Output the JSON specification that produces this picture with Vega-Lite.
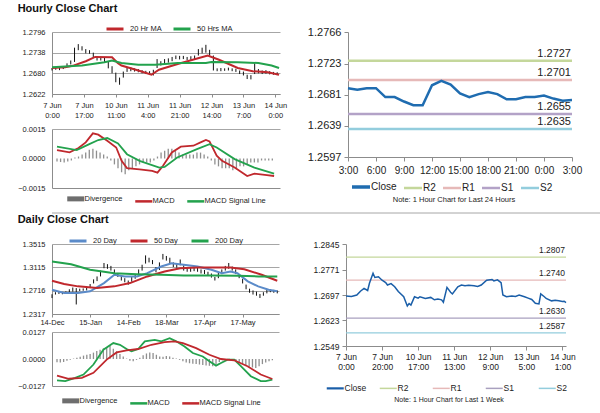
{
  "$schema": "https://vega.github.io/schema/vega-lite/v6.json",
  "padding": {"left": 17, "top": 3, "right": 2, "bottom": 0},
  "config": {
    "view": {"stroke": null},
    "font": "Liberation Sans",
    "concat": {"spacing": 0},
    "axis": {"domainColor": "#8c8c8c", "tickColor": "#8c8c8c", "gridColor": "#a6a6a6", "labelColor": "#222", "labelFlush": false, "labelOverlap": false, "labelFont": "Liberation Sans", "tickCount": 50},
    "legend": {"labelColor": "#222", "labelFont": "Liberation Sans"}
  },
  "datasets": {
    "hPrice": [
      {"i":0,"lo":1.2688,"hi":1.2695},{"i":2,"lo":1.2690,"hi":1.2697},{"i":4,"lo":1.2689,"hi":1.2696},{"i":6,"lo":1.2692,"hi":1.2700},
      {"i":8,"lo":1.2698,"hi":1.2708},{"i":10,"lo":1.2705,"hi":1.2716},{"i":12,"lo":1.2712,"hi":1.2752},{"i":14,"lo":1.2745,"hi":1.2762},
      {"i":16,"lo":1.2744,"hi":1.2756},{"i":18,"lo":1.2736,"hi":1.2748},{"i":20,"lo":1.2735,"hi":1.2745},{"i":22,"lo":1.2724,"hi":1.2738},
      {"i":24,"lo":1.2716,"hi":1.2728},{"i":26,"lo":1.2716,"hi":1.2727},{"i":28,"lo":1.2712,"hi":1.2725},{"i":30,"lo":1.2694,"hi":1.2712},
      {"i":32,"lo":1.2680,"hi":1.2700},{"i":34,"lo":1.2655,"hi":1.2682},{"i":36,"lo":1.2648,"hi":1.2668},{"i":38,"lo":1.2668,"hi":1.2685},
      {"i":40,"lo":1.2684,"hi":1.2696},{"i":42,"lo":1.2686,"hi":1.2697},{"i":44,"lo":1.2685,"hi":1.2694},{"i":46,"lo":1.2683,"hi":1.2692},
      {"i":48,"lo":1.2680,"hi":1.2689},{"i":50,"lo":1.2678,"hi":1.2687},{"i":52,"lo":1.2677,"hi":1.2686},{"i":54,"lo":1.2674,"hi":1.2690},
      {"i":56,"lo":1.2695,"hi":1.2720},{"i":58,"lo":1.2702,"hi":1.2714},{"i":60,"lo":1.2708,"hi":1.2720},{"i":62,"lo":1.2710,"hi":1.2722},
      {"i":64,"lo":1.2714,"hi":1.2726},{"i":66,"lo":1.2720,"hi":1.2730},{"i":68,"lo":1.2719,"hi":1.2729},{"i":70,"lo":1.2720,"hi":1.2729},
      {"i":72,"lo":1.2717,"hi":1.2726},{"i":74,"lo":1.2718,"hi":1.2728},{"i":76,"lo":1.2720,"hi":1.2730},{"i":78,"lo":1.2730,"hi":1.2748},
      {"i":80,"lo":1.2736,"hi":1.2752},{"i":82,"lo":1.2738,"hi":1.2760},{"i":84,"lo":1.2730,"hi":1.2746},{"i":86,"lo":1.2688,"hi":1.2730},
      {"i":88,"lo":1.2686,"hi":1.2694},{"i":90,"lo":1.2686,"hi":1.2695},{"i":92,"lo":1.2687,"hi":1.2694},{"i":94,"lo":1.2688,"hi":1.2696},
      {"i":96,"lo":1.2686,"hi":1.2694},{"i":98,"lo":1.2684,"hi":1.2693},{"i":100,"lo":1.2678,"hi":1.2688},{"i":102,"lo":1.2674,"hi":1.2685},
      {"i":104,"lo":1.2664,"hi":1.2676},{"i":106,"lo":1.2663,"hi":1.2675},{"i":108,"lo":1.2678,"hi":1.2708},{"i":110,"lo":1.2680,"hi":1.2692},
      {"i":112,"lo":1.2678,"hi":1.2688},{"i":114,"lo":1.2679,"hi":1.2689},{"i":116,"lo":1.2677,"hi":1.2686},{"i":118,"lo":1.2676,"hi":1.2684},
      {"i":120,"lo":1.2675,"hi":1.2683}
    ],
    "hMA": [
      {"s":"20 Hr MA","i":0,"v":1.2695},{"s":"20 Hr MA","i":7,"v":1.2697},{"s":"20 Hr MA","i":11,"v":1.2701},{"s":"20 Hr MA","i":18,"v":1.2714},
      {"s":"20 Hr MA","i":23,"v":1.2726},{"s":"20 Hr MA","i":32,"v":1.2725},{"s":"20 Hr MA","i":35,"v":1.2709},{"s":"20 Hr MA","i":37,"v":1.2702},
      {"s":"20 Hr MA","i":46,"v":1.2688},{"s":"20 Hr MA","i":53,"v":1.2676},{"s":"20 Hr MA","i":57,"v":1.2690},{"s":"20 Hr MA","i":67,"v":1.2706},
      {"s":"20 Hr MA","i":75,"v":1.2718},{"s":"20 Hr MA","i":83,"v":1.2730},{"s":"20 Hr MA","i":89,"v":1.2718},{"s":"20 Hr MA","i":99,"v":1.2695},
      {"s":"20 Hr MA","i":107,"v":1.2686},{"s":"20 Hr MA","i":115,"v":1.2683},{"s":"20 Hr MA","i":121,"v":1.2676},
      {"s":"50 Hrs MA","i":0,"v":1.2697},{"s":"50 Hrs MA","i":16,"v":1.2702},{"s":"50 Hrs MA","i":28,"v":1.2711},{"s":"50 Hrs MA","i":32,"v":1.2716},
      {"s":"50 Hrs MA","i":37,"v":1.2709},{"s":"50 Hrs MA","i":46,"v":1.2704},{"s":"50 Hrs MA","i":55,"v":1.2704},{"s":"50 Hrs MA","i":67,"v":1.2709},
      {"s":"50 Hrs MA","i":82,"v":1.2709},{"s":"50 Hrs MA","i":85,"v":1.2712},{"s":"50 Hrs MA","i":99,"v":1.2711},{"s":"50 Hrs MA","i":110,"v":1.2709},
      {"s":"50 Hrs MA","i":117,"v":1.2702},{"s":"50 Hrs MA","i":121,"v":1.2695}
    ],
    "hMacd": [
      {"s":"MACD","i":0,"v":0.00043},{"s":"MACD","i":7,"v":0.00031},{"s":"MACD","i":12,"v":0.00053},{"s":"MACD","i":16,"v":0.00082},
      {"s":"MACD","i":20,"v":0.00128},{"s":"MACD","i":23,"v":0.00121},{"s":"MACD","i":28,"v":0.0009},{"s":"MACD","i":33,"v":0.00056},
      {"s":"MACD","i":36,"v":-0.00012},{"s":"MACD","i":39,"v":-0.00049},{"s":"MACD","i":46,"v":-0.00055},{"s":"MACD","i":53,"v":-0.00063},
      {"s":"MACD","i":56,"v":-0.00072},{"s":"MACD","i":59,"v":-0.00038},{"s":"MACD","i":64,"v":0.00031},{"s":"MACD","i":69,"v":0.0006},
      {"s":"MACD","i":76,"v":0.00065},{"s":"MACD","i":80,"v":0.00082},{"s":"MACD","i":83,"v":0.00094},{"s":"MACD","i":85,"v":0.00087},
      {"s":"MACD","i":89,"v":0.00014},{"s":"MACD","i":92,"v":-0.00012},{"s":"MACD","i":99,"v":-0.00046},{"s":"MACD","i":106,"v":-0.00089},
      {"s":"MACD","i":110,"v":-0.00077},{"s":"MACD","i":117,"v":-0.00084},{"s":"MACD","i":121,"v":-0.00089},
      {"s":"MACD Signal Line","i":0,"v":0.0006},{"s":"MACD Signal Line","i":11,"v":0.00043},{"s":"MACD Signal Line","i":18,"v":0.00073},
      {"s":"MACD Signal Line","i":23,"v":0.00094},{"s":"MACD Signal Line","i":28,"v":0.00104},{"s":"MACD Signal Line","i":34,"v":0.00077},
      {"s":"MACD Signal Line","i":39,"v":0.00022},{"s":"MACD Signal Line","i":46,"v":-0.00012},{"s":"MACD Signal Line","i":57,"v":-0.00046},
      {"s":"MACD Signal Line","i":60,"v":-0.00043},{"s":"MACD Signal Line","i":67,"v":0.00005},{"s":"MACD Signal Line","i":78,"v":0.00048},
      {"s":"MACD Signal Line","i":85,"v":0.00073},{"s":"MACD Signal Line","i":89,"v":0.00056},{"s":"MACD Signal Line","i":99,"v":-0.00003},
      {"s":"MACD Signal Line","i":110,"v":-0.00046},{"s":"MACD Signal Line","i":121,"v":-0.00077}
    ],
    "hDiv": [
      {"i":0,"v":-0.00015},{"i":2,"v":-0.00018},{"i":4,"v":-0.0002},{"i":6,"v":-0.00015},{"i":8,"v":-0.0001},{"i":10,"v":0.00005},
      {"i":12,"v":0.0001},{"i":14,"v":0.0002},{"i":16,"v":0.0003},{"i":18,"v":0.00045},{"i":20,"v":0.0005},{"i":22,"v":0.0004},
      {"i":24,"v":0.0003},{"i":26,"v":0.0002},{"i":28,"v":0.0001},{"i":30,"v":-0.0001},{"i":32,"v":-0.0003},{"i":34,"v":-0.0005},
      {"i":36,"v":-0.0007},{"i":38,"v":-0.0008},{"i":40,"v":-0.0006},{"i":42,"v":-0.0005},{"i":44,"v":-0.0004},{"i":46,"v":-0.0003},
      {"i":48,"v":-0.0002},{"i":50,"v":-0.0002},{"i":52,"v":-0.0002},{"i":54,"v":-0.0001},{"i":56,"v":0.0001},{"i":58,"v":0.0003},
      {"i":60,"v":0.0004},{"i":62,"v":0.0005},{"i":64,"v":0.0005},{"i":66,"v":0.0004},{"i":68,"v":0.0003},{"i":70,"v":0.0002},
      {"i":72,"v":0.0002},{"i":74,"v":0.0002},{"i":76,"v":0.0002},{"i":78,"v":0.0003},{"i":80,"v":0.0003},{"i":82,"v":0.0002},
      {"i":84,"v":0.0001},{"i":86,"v":-0.0001},{"i":88,"v":-0.0003},{"i":90,"v":-0.0004},{"i":92,"v":-0.0005},{"i":94,"v":-0.0005},
      {"i":96,"v":-0.0005},{"i":98,"v":-0.0006},{"i":100,"v":-0.0005},{"i":102,"v":-0.0004},{"i":104,"v":-0.0004},{"i":106,"v":-0.0003},
      {"i":108,"v":-0.0002},{"i":110,"v":-0.0002},{"i":112,"v":-0.0002},{"i":114,"v":-0.0001},{"i":116,"v":-0.0001},{"i":118,"v":-0.0001},
      {"i":120,"v":-0.0001}
    ],
    "hr24": [
      {"h":0,"v":1.2690},{"h":1,"v":1.2688},{"h":2,"v":1.2690},{"h":3,"v":1.2690},{"h":4,"v":1.2678},{"h":5,"v":1.2678},
      {"h":6,"v":1.2672},{"h":7,"v":1.2667},{"h":8,"v":1.2667},{"h":9,"v":1.2694},{"h":10,"v":1.2700},{"h":11,"v":1.2695},
      {"h":12,"v":1.2683},{"h":13,"v":1.2678},{"h":14,"v":1.2682},{"h":15,"v":1.2685},{"h":16,"v":1.2682},{"h":17,"v":1.2675},
      {"h":18,"v":1.2675},{"h":19,"v":1.2678},{"h":20,"v":1.2678},{"h":21,"v":1.2680},{"h":22,"v":1.2676},{"h":23,"v":1.2673},
      {"h":24,"v":1.2674}
    ],
    "lv24": [
      {"s":"R2","v":1.2727,"lab":"1.2727"},{"s":"R1","v":1.2701,"lab":"1.2701"},{"s":"S1","v":1.2655,"lab":"1.2655"},{"s":"S2","v":1.2635,"lab":"1.2635"}
    ],
    "week": [
      {"i":0,"v":1.2694},{"i":3,"v":1.2693},{"i":6,"v":1.2697},{"i":8,"v":1.2708},{"i":10,"v":1.2716},{"i":12,"v":1.2710},
      {"i":13,"v":1.2731},{"i":15,"v":1.2760},{"i":16,"v":1.2748},{"i":18,"v":1.2750},{"i":20,"v":1.2740},{"i":22,"v":1.2733},
      {"i":23,"v":1.2726},{"i":25,"v":1.2730},{"i":27,"v":1.2721},{"i":29,"v":1.2707},{"i":32,"v":1.2692},{"i":34,"v":1.2665},
      {"i":35,"v":1.2672},{"i":36,"v":1.2668},{"i":37,"v":1.2680},{"i":38,"v":1.2692},{"i":40,"v":1.2688},{"i":41,"v":1.2692},
      {"i":44,"v":1.2687},{"i":47,"v":1.2690},{"i":49,"v":1.2683},{"i":51,"v":1.2685},{"i":53,"v":1.2683},{"i":54,"v":1.2676},
      {"i":56,"v":1.2719},{"i":58,"v":1.2705},{"i":59,"v":1.2700},{"i":62,"v":1.2721},{"i":64,"v":1.2726},{"i":66,"v":1.2724},
      {"i":68,"v":1.2725},{"i":71,"v":1.2724},{"i":73,"v":1.2722},{"i":75,"v":1.2726},{"i":78,"v":1.2740},{"i":81,"v":1.2742},
      {"i":82,"v":1.2738},{"i":84,"v":1.2741},{"i":86,"v":1.2733},{"i":87,"v":1.2697},{"i":89,"v":1.2692},{"i":92,"v":1.2694},
      {"i":94,"v":1.2693},{"i":96,"v":1.2697},{"i":99,"v":1.2692},{"i":101,"v":1.2688},{"i":103,"v":1.2684},{"i":105,"v":1.2673},
      {"i":107,"v":1.2671},{"i":108,"v":1.2700},{"i":110,"v":1.2692},{"i":111,"v":1.2687},{"i":114,"v":1.2680},{"i":116,"v":1.2682},
      {"i":118,"v":1.2680},{"i":120,"v":1.2678},{"i":121,"v":1.2679},{"i":122,"v":1.2675}
    ],
    "lvWk": [
      {"s":"R2","v":1.2807,"lab":"1.2807"},{"s":"R1","v":1.2740,"lab":"1.2740"},{"s":"S1","v":1.2630,"lab":"1.2630"},{"s":"S2","v":1.2587,"lab":"1.2587"}
    ],
    "dPrice": [
      {"i":0,"lo":1.2590,"hi":1.2655},{"i":2,"lo":1.2650,"hi":1.2690},{"i":4,"lo":1.2660,"hi":1.2700},{"i":6,"lo":1.2655,"hi":1.2695},
      {"i":8,"lo":1.2665,"hi":1.2705},{"i":10,"lo":1.2680,"hi":1.2740},{"i":12,"lo":1.2700,"hi":1.2770},{"i":14,"lo":1.2480,"hi":1.2760},
      {"i":16,"lo":1.2710,"hi":1.2750},{"i":18,"lo":1.2715,"hi":1.2755},{"i":20,"lo":1.2720,"hi":1.2770},{"i":22,"lo":1.2760,"hi":1.2830},
      {"i":24,"lo":1.2840,"hi":1.2910},{"i":26,"lo":1.2880,"hi":1.2960},{"i":28,"lo":1.2960,"hi":1.3060},{"i":30,"lo":1.3100,"hi":1.3190},
      {"i":32,"lo":1.3090,"hi":1.3170},{"i":34,"lo":1.3060,"hi":1.3140},{"i":36,"lo":1.2990,"hi":1.3080},{"i":38,"lo":1.2950,"hi":1.3020},
      {"i":40,"lo":1.2890,"hi":1.2970},{"i":42,"lo":1.2860,"hi":1.2930},{"i":44,"lo":1.2818,"hi":1.2890},{"i":46,"lo":1.2870,"hi":1.2950},
      {"i":48,"lo":1.2920,"hi":1.2990},{"i":50,"lo":1.2980,"hi":1.3080},{"i":52,"lo":1.3060,"hi":1.3160},{"i":54,"lo":1.3180,"hi":1.3320},
      {"i":56,"lo":1.3200,"hi":1.3280},{"i":58,"lo":1.3170,"hi":1.3240},{"i":60,"lo":1.3030,"hi":1.3120},{"i":62,"lo":1.3070,"hi":1.3200},
      {"i":64,"lo":1.3250,"hi":1.3345},{"i":66,"lo":1.3230,"hi":1.3310},{"i":68,"lo":1.3190,"hi":1.3280},{"i":70,"lo":1.3120,"hi":1.3200},
      {"i":72,"lo":1.3110,"hi":1.3190},{"i":74,"lo":1.3150,"hi":1.3250},{"i":76,"lo":1.3060,"hi":1.3150},{"i":78,"lo":1.3040,"hi":1.3110},
      {"i":80,"lo":1.3040,"hi":1.3110},{"i":82,"lo":1.3050,"hi":1.3115},{"i":84,"lo":1.3040,"hi":1.3110},{"i":86,"lo":1.3010,"hi":1.3080},
      {"i":88,"lo":1.3000,"hi":1.3070},{"i":90,"lo":1.2970,"hi":1.3040},{"i":92,"lo":1.2940,"hi":1.3010},{"i":94,"lo":1.2890,"hi":1.2950},
      {"i":96,"lo":1.2930,"hi":1.3020},{"i":98,"lo":1.3000,"hi":1.3080},{"i":100,"lo":1.3060,"hi":1.3140},{"i":102,"lo":1.3090,"hi":1.3190},
      {"i":104,"lo":1.3060,"hi":1.3130},{"i":106,"lo":1.3000,"hi":1.3080},{"i":108,"lo":1.2930,"hi":1.2990},{"i":110,"lo":1.2840,"hi":1.2920},
      {"i":112,"lo":1.2740,"hi":1.2820},{"i":114,"lo":1.2680,"hi":1.2750},{"i":116,"lo":1.2650,"hi":1.2720},{"i":118,"lo":1.2630,"hi":1.2700},
      {"i":120,"lo":1.2591,"hi":1.2660},{"i":122,"lo":1.2630,"hi":1.2690},{"i":124,"lo":1.2670,"hi":1.2730},{"i":126,"lo":1.2690,"hi":1.2740},
      {"i":128,"lo":1.2680,"hi":1.2730},{"i":130,"lo":1.2670,"hi":1.2720}
    ],
    "dMA": [
      {"s":"20 Day","i":0,"v":1.2733},{"s":"20 Day","i":7,"v":1.2676},{"s":"20 Day","i":15,"v":1.2676},{"s":"20 Day","i":22,"v":1.2705},
      {"s":"20 Day","i":30,"v":1.2846},{"s":"20 Day","i":36,"v":1.2988},{"s":"20 Day","i":42,"v":1.2960},{"s":"20 Day","i":49,"v":1.2960},
      {"s":"20 Day","i":55,"v":1.3016},{"s":"20 Day","i":63,"v":1.3130},{"s":"20 Day","i":69,"v":1.3186},{"s":"20 Day","i":76,"v":1.3158},
      {"s":"20 Day","i":84,"v":1.3130},{"s":"20 Day","i":92,"v":1.3073},{"s":"20 Day","i":98,"v":1.3016},{"s":"20 Day","i":103,"v":1.3045},
      {"s":"20 Day","i":107,"v":1.3016},{"s":"20 Day","i":113,"v":1.2875},{"s":"20 Day","i":119,"v":1.2790},{"s":"20 Day","i":125,"v":1.2733},
      {"s":"20 Day","i":130,"v":1.2705},
      {"s":"50 Day","i":0,"v":1.2886},{"s":"50 Day","i":7,"v":1.2829},{"s":"50 Day","i":15,"v":1.2790},{"s":"50 Day","i":26,"v":1.2761},
      {"s":"50 Day","i":36,"v":1.2790},{"s":"50 Day","i":45,"v":1.2846},{"s":"50 Day","i":55,"v":1.2960},{"s":"50 Day","i":65,"v":1.3045},
      {"s":"50 Day","i":74,"v":1.3101},{"s":"50 Day","i":84,"v":1.3112},{"s":"50 Day","i":94,"v":1.3112},{"s":"50 Day","i":103,"v":1.3112},
      {"s":"50 Day","i":111,"v":1.3084},{"s":"50 Day","i":121,"v":1.2988},{"s":"50 Day","i":130,"v":1.2886},
      {"s":"200 Day","i":0,"v":1.3215},{"s":"200 Day","i":11,"v":1.3169},{"s":"200 Day","i":22,"v":1.3073},{"s":"200 Day","i":36,"v":1.3016},
      {"s":"200 Day","i":49,"v":1.2999},{"s":"200 Day","i":63,"v":1.2988},{"s":"200 Day","i":76,"v":1.2977},{"s":"200 Day","i":92,"v":1.2977},
      {"s":"200 Day","i":107,"v":1.2971},{"s":"200 Day","i":119,"v":1.2960},{"s":"200 Day","i":130,"v":1.2960}
    ],
    "dMacd": [
      {"s":"MACD","i":0,"v":-0.0101},{"s":"MACD","i":5,"v":-0.0104},{"s":"MACD","i":11,"v":-0.0089},{"s":"MACD","i":16,"v":-0.0073},
      {"s":"MACD","i":22,"v":-0.0026},{"s":"MACD","i":28,"v":0.0044},{"s":"MACD","i":34,"v":0.0075},{"s":"MACD","i":38,"v":0.0067},
      {"s":"MACD","i":42,"v":0.0047},{"s":"MACD","i":45,"v":0.0036},{"s":"MACD","i":49,"v":0.0047},{"s":"MACD","i":53,"v":0.0083},
      {"s":"MACD","i":59,"v":0.0090},{"s":"MACD","i":63,"v":0.0083},{"s":"MACD","i":68,"v":0.0098},{"s":"MACD","i":72,"v":0.0083},
      {"s":"MACD","i":77,"v":0.0059},{"s":"MACD","i":82,"v":0.0028},{"s":"MACD","i":88,"v":0.0012},{"s":"MACD","i":92,"v":-0.0011},
      {"s":"MACD","i":96,"v":-0.0031},{"s":"MACD","i":99,"v":-0.0019},{"s":"MACD","i":103,"v":-0.0003},{"s":"MACD","i":107,"v":-0.0003},
      {"s":"MACD","i":111,"v":-0.0034},{"s":"MACD","i":117,"v":-0.0081},{"s":"MACD","i":123,"v":-0.0104},{"s":"MACD","i":126,"v":-0.0104},
      {"s":"MACD","i":130,"v":-0.0097},
      {"s":"MACD Signal Line","i":0,"v":-0.0078},{"s":"MACD Signal Line","i":7,"v":-0.0093},{"s":"MACD Signal Line","i":15,"v":-0.0089},
      {"s":"MACD Signal Line","i":22,"v":-0.0065},{"s":"MACD Signal Line","i":30,"v":-0.0003},{"s":"MACD Signal Line","i":36,"v":0.0031},
      {"s":"MACD Signal Line","i":42,"v":0.0041},{"s":"MACD Signal Line","i":49,"v":0.0047},{"s":"MACD Signal Line","i":57,"v":0.0067},
      {"s":"MACD Signal Line","i":65,"v":0.0079},{"s":"MACD Signal Line","i":71,"v":0.0083},{"s":"MACD Signal Line","i":76,"v":0.0075},
      {"s":"MACD Signal Line","i":84,"v":0.0051},{"s":"MACD Signal Line","i":92,"v":0.0020},{"s":"MACD Signal Line","i":99,"v":0.0},
      {"s":"MACD Signal Line","i":107,"v":-0.0006},{"s":"MACD Signal Line","i":115,"v":-0.0034},{"s":"MACD Signal Line","i":123,"v":-0.0073},
      {"s":"MACD Signal Line","i":130,"v":-0.0094}
    ],
    "dDiv": [
      {"i":0,"v":-0.0015},{"i":2,"v":-0.0016},{"i":4,"v":-0.0014},{"i":6,"v":-0.0008},{"i":8,"v":-0.0004},{"i":10,"v":0.0002},
      {"i":12,"v":0.0006},{"i":14,"v":0.0010},{"i":16,"v":0.0016},{"i":18,"v":0.0020},{"i":20,"v":0.0024},{"i":22,"v":0.0030},
      {"i":24,"v":0.0038},{"i":26,"v":0.0044},{"i":28,"v":0.0050},{"i":30,"v":0.0056},{"i":32,"v":0.0062},{"i":34,"v":0.0048},
      {"i":36,"v":0.0036},{"i":38,"v":0.0024},{"i":40,"v":0.0012},{"i":42,"v":0.0002},{"i":44,"v":-0.0008},{"i":46,"v":-0.0010},
      {"i":48,"v":-0.0004},{"i":50,"v":0.0006},{"i":52,"v":0.0018},{"i":54,"v":0.0026},{"i":56,"v":0.0030},{"i":58,"v":0.0028},
      {"i":60,"v":0.0020},{"i":62,"v":0.0012},{"i":64,"v":0.0010},{"i":66,"v":0.0014},{"i":68,"v":0.0012},{"i":70,"v":0.0006},
      {"i":72,"v":0.0002},{"i":74,"v":-0.0004},{"i":76,"v":-0.0010},{"i":78,"v":-0.0016},{"i":80,"v":-0.0020},{"i":82,"v":-0.0022},
      {"i":84,"v":-0.0024},{"i":86,"v":-0.0026},{"i":88,"v":-0.0028},{"i":90,"v":-0.0030},{"i":92,"v":-0.0032},{"i":94,"v":-0.0034},
      {"i":96,"v":-0.0026},{"i":98,"v":-0.0014},{"i":100,"v":-0.0006},{"i":102,"v":-0.0002},{"i":104,"v":0.0001},{"i":106,"v":0.0},
      {"i":108,"v":-0.0008},{"i":110,"v":-0.0016},{"i":112,"v":-0.0024},{"i":114,"v":-0.0030},{"i":116,"v":-0.0036},{"i":118,"v":-0.0040},
      {"i":120,"v":-0.0042},{"i":122,"v":-0.0034},{"i":124,"v":-0.0024},{"i":126,"v":-0.0016},{"i":128,"v":-0.0010},{"i":130,"v":-0.0006}
    ],
    "sep": [{"v": 0}]
  },
  "resolve": {"scale": {"x": "independent", "y": "independent", "color": "independent"}, "legend": {"color": "independent"}},
  "vconcat": [
    {
      "title": {"text": "Hourly Close Chart", "anchor": "start", "fontSize": 11, "fontWeight": "bold", "offset": 5, "color": "#111"},
      "spacing": 20,
      "resolve": {"scale": {"x": "independent", "y": "independent", "color": "independent"}, "legend": {"color": "independent"}},
      "hconcat": [
        {
          "spacing": 6,
          "resolve": {"scale": {"x": "independent", "y": "independent", "color": "independent"}, "legend": {"color": "independent"}},
          "vconcat": [
            {
              "width": 228, "height": 62,
              "layer": [
                {
                  "data": {"name": "hPrice"},
                  "mark": {"type": "rule", "color": "#111", "strokeWidth": 1},
                  "encoding": {
                    "x": {"field": "i", "type": "quantitative", "scale": {"domain": [0, 121.5], "nice": false, "zero": false},
                      "axis": {"values": [0, 17, 34, 51, 68, 85, 102, 119], "tickCount": 50, "labelExpr": "[['7 Jun','0:00'],['7 Jun','17:00'],['10 Jun','11:00'],['11 Jun','4:00'],['11 Jun','21:00'],['12 Jun','14:00'],['13 Jun','7:00'],['14 Jun','0:00']][round(datum.value/17)]", "labelOverlap": false, "labelFlush": false, "labelFontSize": 7.5, "labelLineHeight": 10, "tickSize": 3, "labelPadding": 4, "grid": false, "title": null}},
                    "y": {"field": "lo", "type": "quantitative", "scale": {"domain": [1.2622, 1.2796], "nice": false, "zero": false},
                      "axis": {"values": [1.2622, 1.268, 1.2738, 1.2796], "tickCount": 50, "format": ".4f", "labelOverlap": false, "labelFlush": false, "labelFontSize": 7.5, "ticks": false, "labelPadding": 7, "grid": true, "title": null}},
                    "y2": {"field": "hi"}
                  }
                },
                {
                  "data": {"name": "hMA"},
                  "mark": {"type": "line", "strokeWidth": 2},
                  "encoding": {
                    "x": {"field": "i", "type": "quantitative"},
                    "y": {"field": "v", "type": "quantitative"},
                    "color": {"field": "s", "type": "nominal", "scale": {"domain": ["20 Hr MA", "50 Hrs MA"], "range": ["#c0282d", "#23a24d"]},
                      "legend": {"orient": "none", "legendX": 53, "legendY": -13, "direction": "horizontal", "title": null, "symbolType": "stroke", "symbolSize": 289, "symbolStrokeWidth": 3, "labelFontSize": 7.5, "labelOffset": 5, "columnPadding": 5}}
                  }
                }
              ]
            },
            {
              "width": 228, "height": 59,
              "layer": [
                {
                  "data": {"name": "hDiv"},
                  "mark": {"type": "bar", "size": 1.3, "color": "#8f8f8f"},
                  "encoding": {
                    "x": {"field": "i", "type": "quantitative", "scale": {"domain": [0, 121.5], "nice": false, "zero": false},
                      "axis": {"labels": false, "ticks": false, "grid": false, "title": null}},
                    "y": {"field": "v", "type": "quantitative", "scale": {"domain": [-0.0015, 0.0015], "nice": false},
                      "axis": {"values": [-0.0015, 0, 0.0015], "tickCount": 50, "format": ".4f", "labelOverlap": false, "labelFlush": false, "labelFontSize": 7.5, "ticks": false, "labelPadding": 7, "grid": true, "gridOpacity": {"condition": {"test": "datum.value > 0", "value": 1}, "value": 0}, "title": null}},
                    "y2": {"datum": 0}
                  }
                },
                {
                  "data": {"name": "hMacd"},
                  "mark": {"type": "line", "strokeWidth": 1.8},
                  "encoding": {
                    "x": {"field": "i", "type": "quantitative"},
                    "y": {"field": "v", "type": "quantitative"},
                    "color": {"field": "s", "type": "nominal", "scale": {"domain": ["Divergence", "MACD", "MACD Signal Line"], "range": ["#6e6e6e", "#c0282d", "#23a24d"]},
                      "legend": {"orient": "none", "legendX": 20, "legendY": 66, "direction": "horizontal", "title": null, "symbolType": "stroke", "symbolSize": 289, "symbolStrokeWidth": 2.5, "labelFontSize": 7.5, "labelOffset": 5, "columnPadding": 7,
                        "encode": {"symbols": {"update": {"strokeWidth": {"signal": "datum.value === 'Divergence' ? 5 : 2.5"}}}}}}
                  }
                }
              ]
            }
          ]
        },
        {
          "width": 224, "height": 125,
          "layer": [
            {
              "data": {"name": "lv24"},
              "mark": {"type": "rule", "strokeWidth": 2.5},
              "encoding": {
                "y": {"field": "v", "type": "quantitative", "scale": {"domain": [1.2597, 1.2766], "nice": false, "zero": false},
                  "axis": {"values": [1.2597, 1.2639, 1.2681, 1.2723, 1.2766], "tickCount": 50, "format": ".4f", "labelOverlap": false, "labelFlush": false, "labelFontSize": 11, "tickSize": 4, "labelPadding": 3, "grid": false, "title": null}},
                "color": {"field": "s", "type": "nominal", "scale": {"domain": ["Close", "R2", "R1", "S1", "S2"], "range": ["#1f6cb0", "#c4d79b", "#e6b9b8", "#b3a2c7", "#93cddd"]},
                  "legend": {"orient": "none", "legendX": 8, "legendY": 150, "direction": "horizontal", "title": "Note: 1 Hour Chart for Last 24 Hours", "titleOrient": "bottom", "titleAnchor": "middle", "titleFontSize": 7.5, "titleFontWeight": "normal", "titlePadding": 2, "titleColor": "#222",
                    "symbolType": "stroke", "symbolSize": 324, "symbolStrokeWidth": 2.5, "labelFontSize": 10, "labelOffset": 5, "columnPadding": 2,
                    "encode": {"symbols": {"update": {"strokeWidth": {"signal": "datum.value === 'Close' ? 3.5 : 2.5"}}}}}}
              }
            },
            {
              "data": {"name": "lv24"},
              "mark": {"type": "text", "align": "right", "baseline": "bottom", "dy": -2, "dx": -1, "fontSize": 11, "color": "#222"},
              "encoding": {
                "x": {"datum": 24, "type": "quantitative"},
                "y": {"field": "v", "type": "quantitative"},
                "text": {"field": "lab"}
              }
            },
            {
              "data": {"name": "hr24"},
              "mark": {"type": "line", "strokeWidth": 2.5, "color": "#1f6cb0"},
              "encoding": {
                "x": {"field": "h", "type": "quantitative", "scale": {"domain": [0, 24], "nice": false, "zero": false},
                  "axis": {"values": [0, 3, 6, 9, 12, 15, 18, 21, 24], "tickCount": 50, "labelExpr": "((datum.value + 3) % 24) + ':00'", "labelOverlap": false, "labelFlush": false, "labelFontSize": 10, "tickSize": 4, "labelPadding": 4, "grid": false, "title": null}},
                "y": {"field": "v", "type": "quantitative"}
              }
            }
          ]
        }
      ]
    },
    {
      "width": 575, "height": 4,
      "data": {"name": "sep"},
      "mark": {"type": "rule", "color": "#a6a6a6", "strokeWidth": 1},
      "encoding": {"y": {"field": "v", "type": "quantitative", "scale": {"domain": [0, 1]}, "axis": null}}
    },
    {
      "title": {"text": "Daily Close Chart", "anchor": "start", "fontSize": 11, "fontWeight": "bold", "offset": 6, "color": "#111"},
      "spacing": 31,
      "resolve": {"scale": {"x": "independent", "y": "independent", "color": "independent"}, "legend": {"color": "independent"}},
      "hconcat": [
        {
          "spacing": 2,
          "resolve": {"scale": {"x": "independent", "y": "independent", "color": "independent"}, "legend": {"color": "independent"}},
          "vconcat": [
            {
              "width": 227, "height": 70,
              "layer": [
                {
                  "data": {"name": "dPrice"},
                  "mark": {"type": "rule", "color": "#111", "strokeWidth": 1},
                  "encoding": {
                    "x": {"field": "i", "type": "quantitative", "scale": {"domain": [0, 131], "nice": false, "zero": false},
                      "axis": {"values": [0, 22, 44, 66, 88, 110], "tickCount": 50, "labelExpr": "['14-Dec','15-Jan','14-Feb','18-Mar','17-Apr','17-May'][round(datum.value/22)]", "labelOverlap": false, "labelFlush": false, "labelFontSize": 7.5, "tickSize": 3, "labelPadding": 1, "grid": false, "title": null}},
                    "y": {"field": "lo", "type": "quantitative", "scale": {"domain": [1.2317, 1.3515], "nice": false, "zero": false},
                      "axis": {"values": [1.2317, 1.2716, 1.3115, 1.3515], "tickCount": 50, "format": ".4f", "labelOverlap": false, "labelFlush": false, "labelFontSize": 7.5, "ticks": false, "labelPadding": 7, "grid": true, "title": null}},
                    "y2": {"field": "hi"}
                  }
                },
                {
                  "data": {"name": "dMA"},
                  "mark": {"type": "line", "strokeWidth": 2},
                  "encoding": {
                    "x": {"field": "i", "type": "quantitative"},
                    "y": {"field": "v", "type": "quantitative"},
                    "color": {"field": "s", "type": "nominal", "scale": {"domain": ["20 Day", "50 Day", "200 Day"], "range": ["#5b8bc9", "#c0282d", "#23a24d"]},
                      "legend": {"orient": "none", "legendX": 16, "legendY": -13, "direction": "horizontal", "title": null, "symbolType": "stroke", "symbolSize": 289, "symbolStrokeWidth": 3, "labelFontSize": 7.5, "labelOffset": 5, "columnPadding": 7}}
                  }
                }
              ]
            },
            {
              "width": 227, "height": 54,
              "layer": [
                {
                  "data": {"name": "dDiv"},
                  "mark": {"type": "bar", "size": 1.3, "color": "#8f8f8f"},
                  "encoding": {
                    "x": {"field": "i", "type": "quantitative", "scale": {"domain": [0, 131], "nice": false, "zero": false},
                      "axis": {"labels": false, "ticks": false, "grid": false, "title": null}},
                    "y": {"field": "v", "type": "quantitative", "scale": {"domain": [-0.0127, 0.0127], "nice": false},
                      "axis": {"values": [-0.0127, 0, 0.0127], "tickCount": 50, "format": ".4f", "labelOverlap": false, "labelFlush": false, "labelFontSize": 7.5, "ticks": false, "labelPadding": 7, "grid": true, "gridOpacity": {"condition": {"test": "datum.value > 0", "value": 1}, "value": 0}, "title": null}},
                    "y2": {"datum": 0}
                  }
                },
                {
                  "data": {"name": "dMacd"},
                  "mark": {"type": "line", "strokeWidth": 1.8},
                  "encoding": {
                    "x": {"field": "i", "type": "quantitative"},
                    "y": {"field": "v", "type": "quantitative"},
                    "color": {"field": "s", "type": "nominal", "scale": {"domain": ["Divergence", "MACD", "MACD Signal Line"], "range": ["#6e6e6e", "#23a24d", "#c0282d"]},
                      "legend": {"orient": "none", "legendX": 15, "legendY": 65, "direction": "horizontal", "title": null, "symbolType": "stroke", "symbolSize": 289, "symbolStrokeWidth": 2.5, "labelFontSize": 7.5, "labelOffset": 5, "columnPadding": 7,
                        "encode": {"symbols": {"update": {"strokeWidth": {"signal": "datum.value === 'Divergence' ? 5 : 2.5"}}}}}}
                  }
                }
              ]
            }
          ]
        },
        {
          "width": 220, "height": 102,
          "layer": [
            {
              "data": {"name": "lvWk"},
              "mark": {"type": "rule", "strokeWidth": 1.3},
              "encoding": {
                "y": {"field": "v", "type": "quantitative", "scale": {"domain": [1.2549, 1.2845], "nice": false, "zero": false},
                  "axis": {"values": [1.2549, 1.2623, 1.2697, 1.2771, 1.2845], "tickCount": 50, "format": ".4f", "labelOverlap": false, "labelFlush": false, "labelFontSize": 8.5, "tickSize": 4, "labelPadding": 3, "grid": false, "title": null}},
                "color": {"field": "s", "type": "nominal", "scale": {"domain": ["Close", "R2", "R1", "S1", "S2"], "range": ["#1a5ea8", "#c4d79b", "#e6b9b8", "#a9a0bf", "#93cddd"]},
                  "legend": {"orient": "none", "legendX": -15, "legendY": 140, "direction": "horizontal", "columns": 5, "gridAlign": "all", "title": "Note: 1 Hour Chart for Last 1 Week", "titleOrient": "bottom", "titleAnchor": "middle", "titleFontSize": 7, "titleFontWeight": "normal", "titlePadding": 3, "titleColor": "#222",
                    "symbolType": "stroke", "symbolSize": 289, "symbolStrokeWidth": 1.5, "labelFontSize": 8.5, "labelOffset": 5, "columnPadding": 9,
                    "encode": {"symbols": {"update": {"strokeWidth": {"signal": "datum.value === 'Close' ? 2.2 : 1.5"}}}}}}
              }
            },
            {
              "data": {"name": "lvWk"},
              "mark": {"type": "text", "align": "right", "baseline": "bottom", "dy": -2, "dx": -1, "fontSize": 8.5, "color": "#222"},
              "encoding": {
                "x": {"datum": 122, "type": "quantitative"},
                "y": {"field": "v", "type": "quantitative"},
                "text": {"field": "lab"}
              }
            },
            {
              "data": {"name": "week"},
              "mark": {"type": "line", "strokeWidth": 1.5, "color": "#1a5ea8"},
              "encoding": {
                "x": {"field": "i", "type": "quantitative", "scale": {"domain": [0, 122], "nice": false, "zero": false},
                  "axis": {"values": [0, 20, 40, 60, 80, 100, 120], "tickCount": 50, "labelExpr": "[['7 Jun','0:00'],['7 Jun','20:00'],['10 Jun','17:00'],['11 Jun','13:00'],['12 Jun','9:00'],['13 Jun','5:00'],['14 Jun','1:00']][round(datum.value/20)]", "labelOverlap": false, "labelFlush": false, "labelFontSize": 8.5, "labelLineHeight": 10, "tickSize": 4, "labelPadding": 2, "grid": false, "title": null}},
                "y": {"field": "v", "type": "quantitative"}
              }
            }
          ]
        }
      ]
    },
    {
      "width": 575, "height": 4,
      "data": {"name": "sep"},
      "mark": {"type": "rule", "color": "#a6a6a6", "strokeWidth": 1},
      "encoding": {"y": {"field": "v", "type": "quantitative", "scale": {"domain": [0, 1]}, "axis": null}}
    }
  ]
}
